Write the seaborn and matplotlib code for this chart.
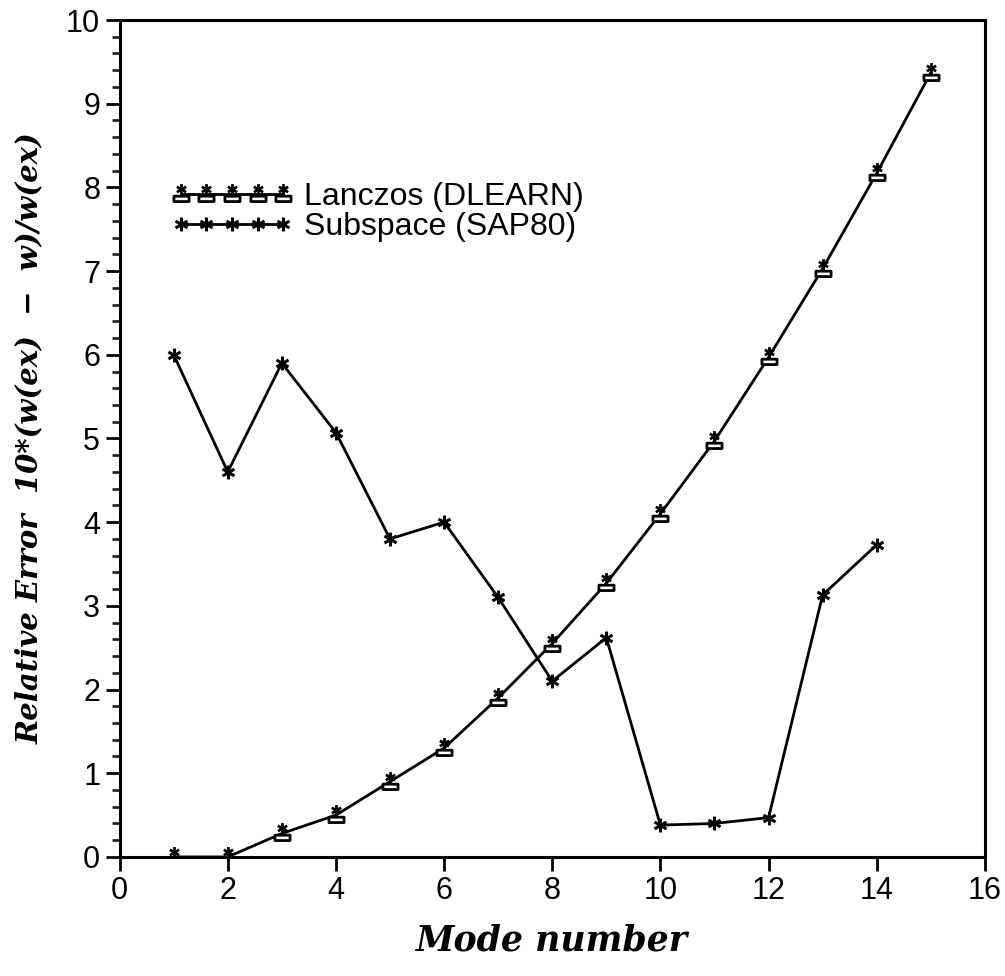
import numpy as np
import pandas as pd
import matplotlib
matplotlib.use("Agg")
import matplotlib.pyplot as plt
from matplotlib.path import Path
from matplotlib.ticker import MultipleLocator
import seaborn as sns

# ---- data ----
lanczos_modes = [1, 2, 3, 4, 5, 6, 7, 8, 9, 10, 11, 12, 13, 14, 15]
lanczos_err = [0.0, 0.0, 0.28, 0.5, 0.9, 1.3, 1.9, 2.55, 3.27, 4.1, 4.97, 5.97, 7.03, 8.17, 9.37]
subspace_modes = [1, 2, 3, 4, 5, 6, 7, 8, 9, 10, 11, 12, 13, 14]
subspace_err = [6.0, 4.6, 5.9, 5.07, 3.8, 4.0, 3.1, 2.1, 2.62, 0.38, 0.4, 0.47, 3.13, 3.73]
series_names = ["Lanczos (DLEARN)", "Subspace (SAP80)"]
x_ticks = [0, 2, 4, 6, 8, 10, 12, 14, 16]
y_ticks = [0, 1, 2, 3, 4, 5, 6, 7, 8, 9, 10]

df_l = pd.DataFrame({"mode": lanczos_modes, "err": lanczos_err})
df_s = pd.DataFrame({"mode": subspace_modes, "err": subspace_err})

sns.set_theme(style="ticks")
plt.rcParams["font.family"] = ["Liberation Sans", "DejaVu Sans"]
plt.rcParams["text.color"] = "black"
plt.rcParams["axes.labelcolor"] = "black"

# custom marker: asterisk over a small open box
def star_box_marker():
    verts, codes = [], []
    cx, cy, r = 0.0, 0.3, 0.32
    for ang in (90, 30, 150):
        a = np.deg2rad(ang)
        dx, dy = r * np.cos(a), r * np.sin(a)
        verts += [(cx - dx, cy - dy), (cx + dx, cy + dy)]
        codes += [Path.MOVETO, Path.LINETO]
    bx = [(-0.45, -0.1), (0.45, -0.1), (0.45, -0.42), (-0.45, -0.42), (-0.45, -0.1)]
    verts += bx
    codes += [Path.MOVETO, Path.LINETO, Path.LINETO, Path.LINETO, Path.CLOSEPOLY]
    return Path(verts, codes)

def star_marker():
    verts, codes = [], []
    r = 0.5
    for ang in (90, 30, 150):
        a = np.deg2rad(ang)
        dx, dy = r * np.cos(a), r * np.sin(a)
        verts += [(-dx, -dy), (dx, dy)]
        codes += [Path.MOVETO, Path.LINETO]
    return Path(verts, codes)

fig = plt.figure(figsize=(10.05, 9.76), dpi=100)
ax = fig.add_axes([0.119, 0.122, 0.861, 0.8575])

sns.lineplot(data=df_l, x="mode", y="err", ax=ax, color="black", lw=2.0,
             marker=star_box_marker(), markersize=15, markeredgewidth=2.0,
             markerfacecolor="white", markeredgecolor="black",
             label=series_names[0])
sns.lineplot(data=df_s, x="mode", y="err", ax=ax, color="black", lw=2.0,
             marker=star_marker(), markersize=10, markeredgewidth=2.2,
             markeredgecolor="black", label=series_names[1])

ax.set_xlim(0, 16)
ax.set_ylim(0, 10)
ax.set_xticks(x_ticks)
ax.set_yticks(y_ticks)
ax.set_xticklabels([str(t) for t in x_ticks])
ax.set_yticklabels([str(t) for t in y_ticks])
ax.yaxis.set_minor_locator(MultipleLocator(0.2))
ax.tick_params(axis="both", which="major", direction="out", length=10, width=2,
               labelsize=22, colors="black", labelcolor="black", pad=4)
ax.tick_params(axis="y", which="minor", direction="out", length=6, width=2, left=True)
for s in ax.spines.values():
    s.set_linewidth(2.2)
    s.set_color("black")

ax.set_xlabel("Mode number", family=["DejaVu Serif"], style="italic", weight="bold",
              fontsize=25, labelpad=12, color="black")
ax.set_ylabel("Relative Error  10*(w(ex)  \u2212  w)/w(ex)", family=["DejaVu Serif"],
              style="italic", weight="bold", fontsize=21, labelpad=16, color="black")

leg = ax.legend(loc="upper left", bbox_to_anchor=(0.045, 0.822), frameon=False,
                numpoints=5, handlelength=3.8, handletextpad=0.35, fontsize=23,
                labelspacing=0.0, borderaxespad=0)
for t in leg.get_texts():
    t.set_color("black")

fig.savefig("out.png", dpi=100, facecolor="white")
